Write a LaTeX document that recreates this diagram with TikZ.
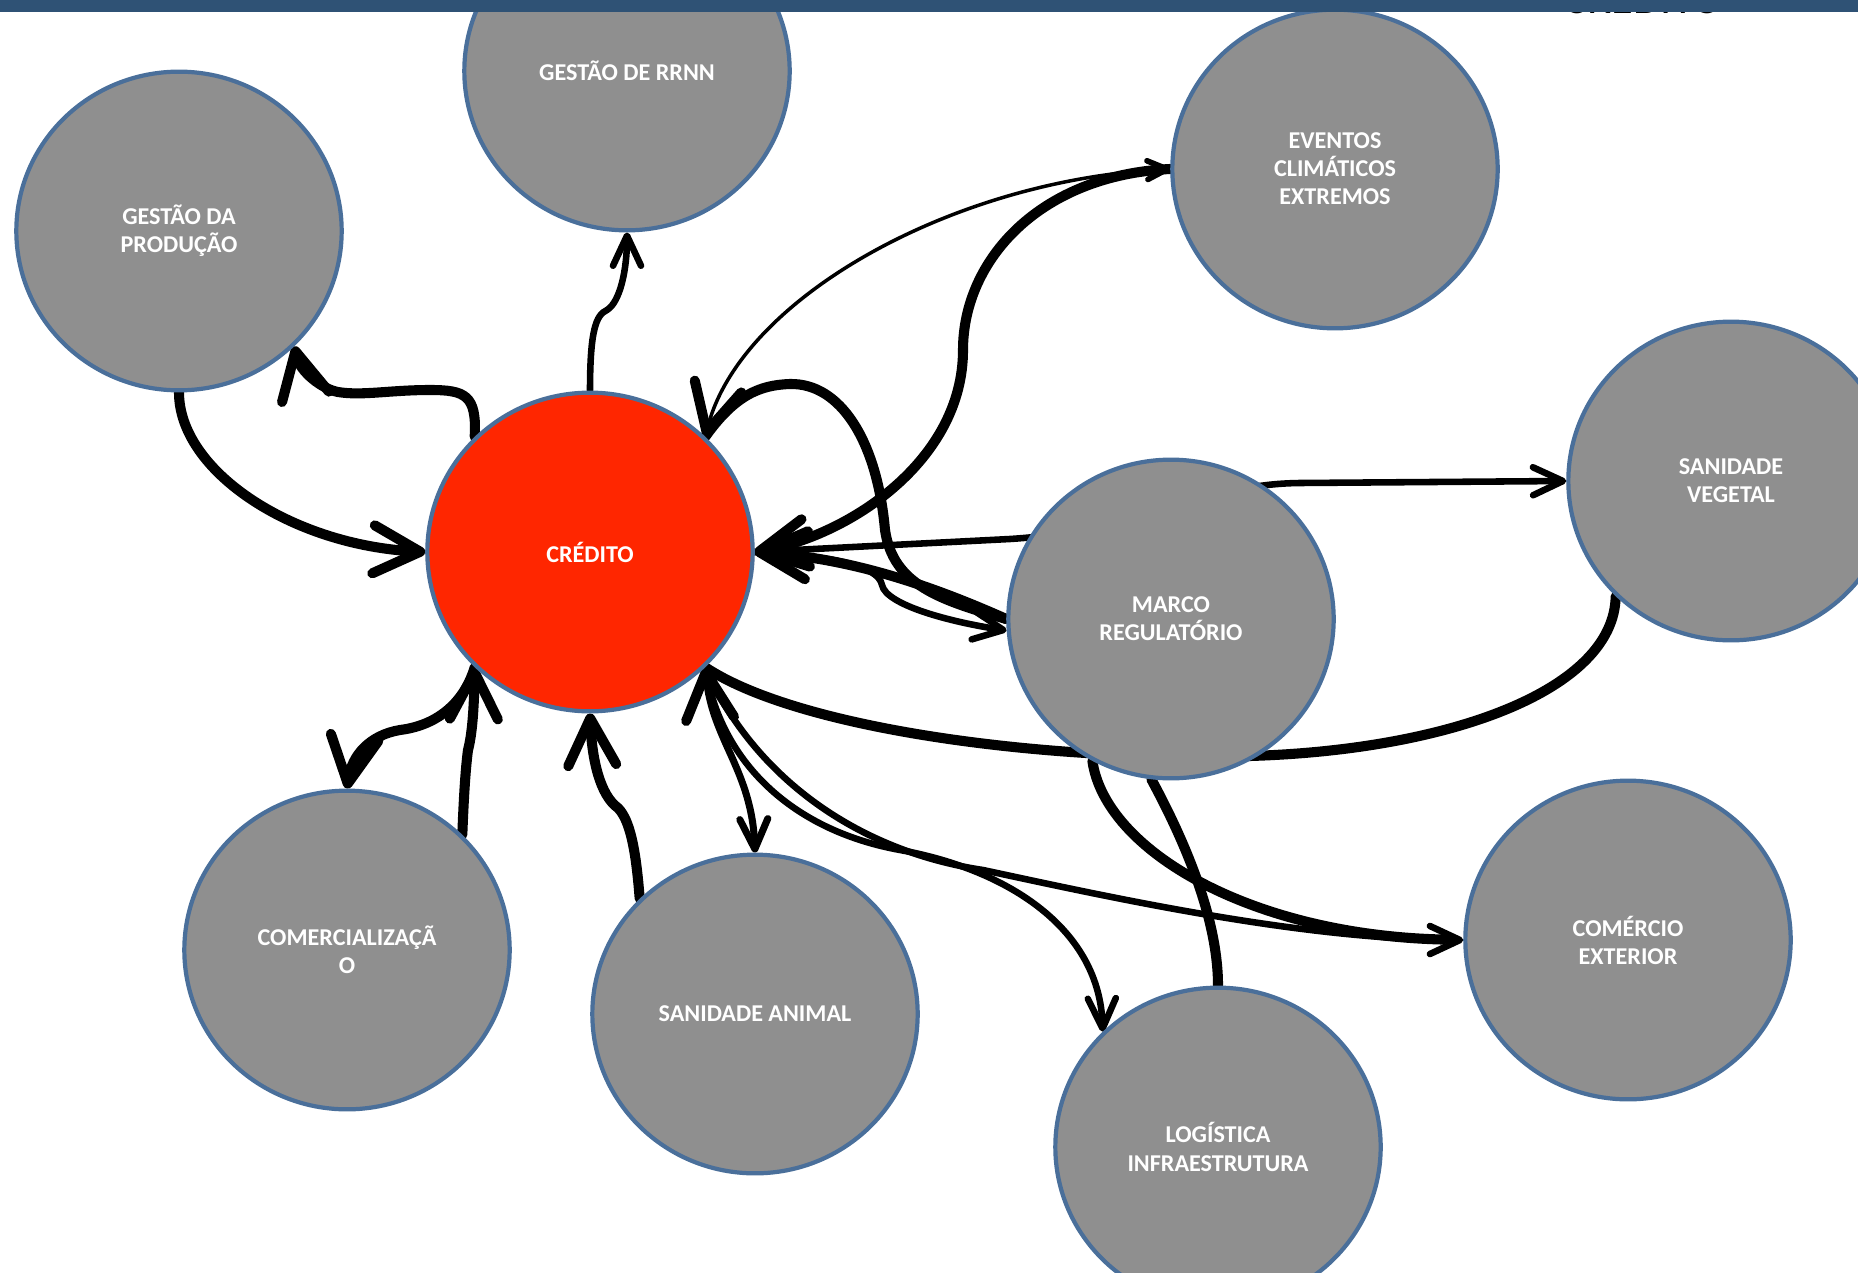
\documentclass[tikz,border=0pt]{standalone}
\usepackage{fontspec}
\setmainfont{Carlito}
\usetikzlibrary{arrows.meta}
\usetikzlibrary{shapes.geometric}
\usetikzlibrary{backgrounds}
\definecolor{factorgray}{HTML}{8F8F8F}
\definecolor{factorborder}{HTML}{4A6F9A}
\definecolor{creditred}{HTML}{FF2600}
\definecolor{topbar}{HTML}{2F5275}
\tikzset{factor/.style = {ellipse, draw=factorborder, line width=1.8pt,
                          fill=factorgray, text=white, align=center, inner sep=0pt,
                          minimum width=4.88cm, minimum height=4.78cm,
                          font=\bfseries\fontsize{10.3}{12}\selectfont}}
\tikzset{central/.style = {factor, fill=creditred}}
\tikzset{thickline/.style = {line width=4.3pt, line cap=round}}
\tikzset{midline/.style = {line width=2.8pt, line cap=round}}
\tikzset{thinline/.style = {line width=1.5pt}}
\tikzset{bigtip/.style = {-{Straight Barb[round, length=0.7cm, width=0.72cm]}}}
\tikzset{smalltip/.style = {-{Straight Barb[round, length=0.45cm, width=0.42cm]}}}

\begin{document}
\begin{tikzpicture}[x=0.015cm, y=-0.015cm]
      \useasboundingbox (0,0) rectangle (1858,1273);

      \node [central] (cred) at (590,552) {CRÉDITO};
      \node [factor] (gdp) at (179,231) {GESTÃO DA\\PRODUÇÃO};
      \node [factor] (rrnn) at (627,71) {GESTÃO DE RRNN};
      \node [factor] (evt) at (1335,169) {EVENTOS\\CLIMÁTICOS\\EXTREMOS};
      \node [factor] (sv) at (1731,481) {SANIDADE\\VEGETAL};
      \node [factor] (marco) at (1171,619) {MARCO\\REGULATÓRIO};
      \node [factor] (comerc) at (347,950) {COMERCIALIZAÇÃ\\O};
      \node [factor] (sanim) at (755,1014) {SANIDADE ANIMAL};
      \node [factor] (log) at (1218,1147) {LOGÍSTICA\\INFRAESTRUTURA};
      \node [factor] (comext) at (1628,940) {COMÉRCIO\\EXTERIOR};

      \begin{scope}[on background layer]
        % left side
        \draw [thickline, bigtip] (gdp.south) .. controls (179,470) and (290,545) .. (cred.west);
        \draw [thickline, bigtip] (cred.135) .. controls (477,395) and (465,390) .. (430,390)
          .. controls (390,390) and (362,396) .. (338,392) .. controls (322,389) and (300,372) .. (gdp.-45);
        \draw [midline, smalltip] (cred.north) .. controls (590,330) and (596,315) .. (607,310)
          .. controls (620,302) and (627,270) .. (rrnn.south);

        % eventos
        \draw [thickline, bigtip] (evt.west) .. controls (1040,175) and (963,260) .. (963,350)
          .. controls (963,460) and (850,535) .. (cred.east);
        \draw [thinline, {Straight Barb[round, length=0.7cm, width=0.72cm, line width=4.3pt]}-{Straight Barb[round, length=0.3cm, width=0.28cm, line width=2.4pt]}]
          (cred.45) .. controls (740,300) and (950,180) .. (evt.west);

        % marco
        \draw [thickline] (marco.west) .. controls (940,600) and (893,585) .. (885,530)
          .. controls (877,440) and (840,383) .. (790,384) .. controls (760,385) and (735,395) .. (cred.45);
        \draw [thickline, bigtip] (marco.west) .. controls (930,585) and (850,558) .. (cred.east);
        \draw [midline, smalltip] (cred.east) .. controls (830,556) and (878,565) .. (882,585)
          .. controls (886,605) and (950,622) .. (marco.184);
        \draw [midline, smalltip] (cred.east) -- (1010,539) .. controls (1150,530) and (1200,484) .. (1300,483) -- (sv.west);
        \draw [thickline] (sv.-135) .. controls (1614,690) and (1450,750) .. (1250,756)
          .. controls (1050,762) and (800,730) .. (cred.-45);
        \draw [thickline, shorten >=0.3cm] (marco.-119) .. controls (1105,850) and (1250,935) .. (comext.west);
        \draw [thickline] (marco.-97) .. controls (1195,860) and (1218,930) .. (log.north);

        % lower side
        \draw [line width=3pt, line cap=round, {Straight Barb[round, length=0.7cm, width=0.72cm, line width=4.3pt]}-{Straight Barb[round, length=0.45cm, width=0.42cm]}]
          (cred.-45) .. controls (712,740) and (752,770) .. (sanim.north);
        \draw [midline, smalltip] (cred.-45) .. controls (720,760) and (790,830) .. (900,850)
          .. controls (1010,870) and (1100,930) .. (log.135);
        \draw [midline, smalltip] (cred.-45) .. controls (750,770) and (850,850) .. (983,870)
          .. controls (1100,895) and (1300,940) .. (comext.west);
        \draw [thickline, bigtip] (comerc.45) .. controls (464,790) and (466,765) .. (468,750)
          .. controls (472,735) and (474,710) .. (cred.-135);
        \draw [thickline, bigtip] (cred.-135) .. controls (465,700) and (440,725) .. (400,730)
          .. controls (370,735) and (352,755) .. (comerc.north);
        \draw [thickline, bigtip] (sanim.135) .. controls (636,850) and (630,820) .. (618,808)
          .. controls (600,795) and (592,760) .. (cred.south);
      \end{scope}

      \node [anchor=base, font=\fontsize{19}{22}\selectfont] (title) at (1643,14) {CRÉDITO};
      \fill [topbar] (0,0) rectangle (1858,12);
    \end{tikzpicture}
\end{document}
